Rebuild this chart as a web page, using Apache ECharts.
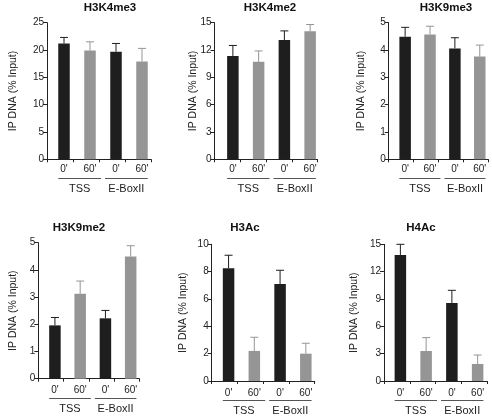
<!DOCTYPE html>
<html><head><meta charset="utf-8">
<script src="https://cdn.jsdelivr.net/npm/echarts@6/dist/echarts.min.js"></script>
<style>html,body{margin:0;padding:0;background:#fff}#c{width:492px;height:416px}</style>
</head><body><div id="c"></div>
<script>
// ---- data ----
const categories = ["0'", "60'", "0'", "60'"];
const groups = ['TSS', 'E-BoxII'];
const titles = ['H3K4me3', 'H3K4me2', 'H3K9me3', 'H3K9me2', 'H3Ac', 'H4Ac'];
const yAxisName = 'IP DNA (% Input)';

const h3k4me3 = [21.2, 19.9, 19.7, 17.9];
const h3k4me3Err = [1.1, 1.6, 1.5, 2.4];
const h3k4me2 = [11.35, 10.7, 13.1, 14.05];
const h3k4me2Err = [1.15, 1.2, 1.0, 0.75];
const h3k9me3 = [4.49, 4.57, 4.06, 3.76];
const h3k9me3Err = [0.34, 0.3, 0.39, 0.42];
const h3k9me2 = [1.96, 3.12, 2.22, 4.49];
const h3k9me2Err = [0.29, 0.47, 0.29, 0.4];
const h3ac = [8.24, 2.2, 7.1, 2.0];
const h3acErr = [0.96, 1.0, 1.0, 0.76];
const h4ac = [13.83, 3.29, 8.56, 1.87];
const h4acErr = [1.17, 1.47, 1.39, 0.98];

const yMax = [25, 15, 5, 5, 10, 15];
const yInterval = [5, 3, 1, 1, 2, 3];

const values = [h3k4me3, h3k4me2, h3k9me3, h3k9me2, h3ac, h4ac];
const errors = [h3k4me3Err, h3k4me2Err, h3k9me3Err, h3k9me2Err, h3acErr, h4acErr];

// ---- layout (px) ----
const grids = [
  {left: 47, top: 22.7, width: 104, height: 136.6},
  {left: 214.5, top: 22.7, width: 103, height: 136.6},
  {left: 388.7, top: 22.7, width: 99.5, height: 136.6},
  {left: 38.3, top: 242.7, width: 101, height: 136},
  {left: 211.7, top: 244.3, width: 103, height: 136.7},
  {left: 384, top: 244.3, width: 103, height: 136.7}
];
const shifts = [4, 5.5, 4, 4, 4, 3.5];
const nameCenterDist = [34, 22, 27.7, 25.6, 28.7, 30.7];
const titleX = [110, 270, 446, 79, 245, 421];
const titleY = [2, 2, 2, 222, 222, 222];
const tickLabelMargin = [5, 5, 5, 7, 7, 7];

const BLACK = '#1e1e1e';
const GRAY = '#959595';
const AXIS = '#222';
const FONT = '"Liberation Sans", Arial, sans-serif';
const BW = 11.5;

const option = {
  animation: false,
  backgroundColor: '#fff',
  textStyle: {fontFamily: FONT},
  title: titles.map((t, i) => ({
    text: t, left: titleX[i], top: titleY[i], textAlign: 'center', padding: 0,
    textStyle: {fontSize: 11.5, fontWeight: 'bold', color: '#111', fontFamily: FONT}
  })),
  grid: grids.map(g => Object.assign({containLabel: false}, g)),
  xAxis: grids.map((g, i) => ({
    type: 'category', gridIndex: i, data: categories,
    axisLine: {show: true, lineStyle: {color: AXIS, width: 1}},
    axisTick: {show: true, length: 3, lineStyle: {color: AXIS}},
    axisLabel: {fontSize: 10, color: '#222', margin: tickLabelMargin[i], fontFamily: FONT, interval: 0,
      padding: [0, 0, 0, shifts[i] * 2]},
    splitLine: {show: false}
  })),
  yAxis: grids.map((g, i) => ({
    type: 'value', gridIndex: i, min: 0, max: yMax[i], interval: yInterval[i],
    name: yAxisName, nameLocation: 'middle', nameRotate: 90, nameGap: nameCenterDist[i] - 6,
    nameMoveOverlap: false,
    nameTextStyle: {fontSize: 10.5, color: '#222', fontFamily: FONT},
    axisLine: {show: true, lineStyle: {color: AXIS, width: 1}},
    axisTick: {show: true, length: 4, lineStyle: {color: AXIS}},
    axisLabel: {fontSize: 10, color: '#222', margin: 3, fontFamily: FONT},
    splitLine: {show: false}
  })),
  series: []
};

values.forEach((vals, i) => {
  const shift = shifts[i];
  option.series.push({
    type: 'custom', xAxisIndex: i, yAxisIndex: i, clip: false,
    data: vals.map((v, k) => [k, v, errors[i][k]]),
    encode: {x: 0, y: 1},
    renderItem: (params, api) => {
      const idx = api.value(0), v = api.value(1), e = api.value(2);
      const base = api.coord([idx, 0]);
      const top = api.coord([idx, v]);
      const et = api.coord([idx, v + e]);
      const cx = top[0] + shift;
      const color = idx % 2 === 0 ? BLACK : GRAY;
      return {type: 'group', children: [
        {type: 'rect', shape: {x: cx - BW / 2, y: top[1], width: BW, height: base[1] - top[1]}, style: {fill: color}},
        {type: 'line', shape: {x1: cx, y1: top[1], x2: cx, y2: et[1]}, style: {stroke: color, lineWidth: 1}},
        {type: 'line', shape: {x1: cx - 4, y1: et[1], x2: cx + 4, y2: et[1]}, style: {stroke: color, lineWidth: 1}}
      ]};
    }
  });
  // group underline + label
  option.series.push({
    type: 'custom', xAxisIndex: i, yAxisIndex: i, clip: false, silent: true,
    data: groups.map((gname, gi) => [gi * 2, 0, gi]),
    encode: {x: 0, y: 1},
    renderItem: (params, api) => {
      const start = api.value(0), gi = api.value(2);
      const cs = params.coordSys;
      const catW = api.size([1, 0])[0];
      const bottom = cs.y + cs.height;
      let x1, x2;
      if (gi === 0) {
        x1 = api.coord([start, 0])[0] + shift - BW / 2;
        x2 = api.coord([start + 1, 0])[0] + catW / 2 + shift - 2;
      } else {
        x1 = api.coord([start, 0])[0] - catW / 2 + shift + 2;
        x2 = api.coord([start + 1, 0])[0] + shift + BW / 2;
      }
      const y = Math.round(bottom + 19) + 0.5;
      return {type: 'group', children: [
        {type: 'line', shape: {x1: x1, y1: y, x2: x2, y2: y}, style: {stroke: '#555', lineWidth: 1}},
        {type: 'text', x: (x1 + x2) / 2, y: bottom + 30,
          style: {text: groups[gi], fontSize: 11, fill: '#222', fontFamily: FONT, align: 'center', verticalAlign: 'middle'}}
      ]};
    }
  });
});

const chart = echarts.init(document.getElementById('c'), null, {renderer: 'canvas'});
chart.setOption(option);
</script></body></html>
